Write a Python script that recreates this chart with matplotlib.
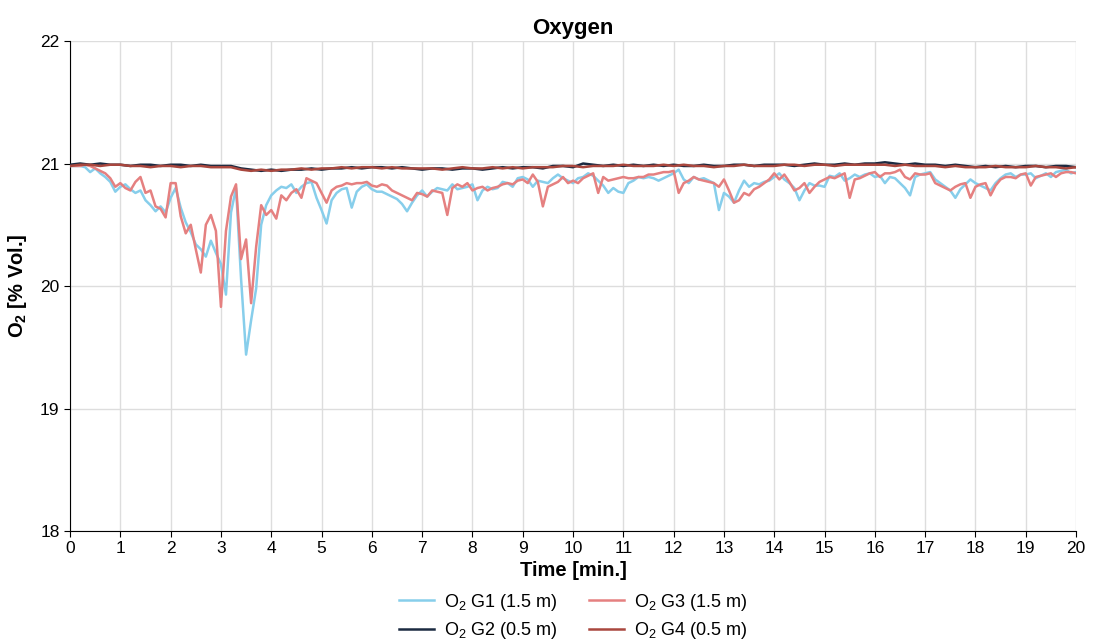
import numpy as np
import matplotlib
matplotlib.use("Agg")
import matplotlib.pyplot as plt

plt.rcParams['font.family'] = ['Liberation Sans', 'DejaVu Sans']
plt.rcParams['mathtext.default'] = 'regular'

# time axis for the sensor data [min.]
t_fine = np.round(np.arange(0, 20.01, 0.1), 2)
t_coarse = np.round(np.arange(0, 20.01, 0.2), 2)

# O2 G1 (1.5 m)
g1 = [
    20.98, 20.98, 20.98, 20.97, 20.93, 20.96, 20.92, 20.89, 20.85, 20.77,
    20.81, 20.83, 20.79, 20.76, 20.78, 20.70, 20.66, 20.61, 20.65, 20.60,
    20.72, 20.80, 20.64, 20.52, 20.44, 20.34, 20.30, 20.24, 20.37, 20.27,
    20.18, 19.93, 20.60, 20.80, 20.06, 19.44, 19.72, 19.98, 20.50, 20.66,
    20.74, 20.78, 20.81, 20.80, 20.83, 20.76, 20.81, 20.84, 20.85, 20.72,
    20.62, 20.51, 20.70, 20.76, 20.79, 20.80, 20.64, 20.77, 20.81, 20.83,
    20.79, 20.77, 20.77, 20.75, 20.73, 20.71, 20.67, 20.61, 20.68, 20.74,
    20.78, 20.73, 20.77, 20.80, 20.79, 20.78, 20.83, 20.79, 20.80, 20.81,
    20.83, 20.70, 20.78, 20.81, 20.79, 20.80, 20.85, 20.84, 20.81, 20.88,
    20.89, 20.87, 20.81, 20.86, 20.85, 20.84, 20.88, 20.91, 20.88, 20.86,
    20.84, 20.88, 20.89, 20.92, 20.90, 20.86, 20.82, 20.76, 20.80, 20.77,
    20.76, 20.84, 20.86, 20.89, 20.88, 20.89, 20.88, 20.86, 20.88, 20.90,
    20.92, 20.95, 20.87, 20.84, 20.89, 20.87, 20.88, 20.86, 20.84, 20.62,
    20.76, 20.73, 20.68, 20.78, 20.86, 20.81, 20.84, 20.83, 20.85, 20.86,
    20.89, 20.92, 20.87, 20.84, 20.80, 20.70, 20.78, 20.84, 20.82, 20.82,
    20.81, 20.90, 20.89, 20.92, 20.86, 20.88, 20.91, 20.89, 20.91, 20.92,
    20.89, 20.90, 20.84, 20.89, 20.88, 20.84, 20.80, 20.74, 20.89, 20.91,
    20.92, 20.93, 20.87, 20.84, 20.81, 20.78, 20.72, 20.79, 20.83, 20.87,
    20.84, 20.82, 20.80, 20.78, 20.84, 20.88, 20.91, 20.92, 20.89, 20.91,
    20.91, 20.92, 20.88, 20.90, 20.92, 20.89, 20.93, 20.94, 20.95, 20.92,
    20.93,
]

# O2 G3 (1.5 m)
g3 = [
    20.98, 20.98, 20.98, 20.99, 20.98, 20.96, 20.94, 20.92, 20.88, 20.81,
    20.84, 20.80, 20.78, 20.85, 20.89, 20.76, 20.78, 20.65, 20.63, 20.56,
    20.84, 20.84, 20.57, 20.43, 20.50, 20.30, 20.11, 20.50, 20.58, 20.45,
    19.83, 20.45, 20.73, 20.83, 20.22, 20.38, 19.86, 20.32, 20.66, 20.58,
    20.62, 20.55, 20.74, 20.70, 20.76, 20.79, 20.72, 20.88, 20.86, 20.84,
    20.76, 20.68, 20.78, 20.81, 20.82, 20.84, 20.83, 20.84, 20.84, 20.85,
    20.82, 20.81, 20.83, 20.82, 20.78, 20.76, 20.74, 20.72, 20.70, 20.76,
    20.75, 20.73, 20.78, 20.77, 20.76, 20.58, 20.80, 20.83, 20.81, 20.84,
    20.78, 20.80, 20.81, 20.78, 20.80, 20.81, 20.83, 20.84, 20.83, 20.86,
    20.87, 20.84, 20.91, 20.85, 20.65, 20.81, 20.83, 20.85, 20.89, 20.84,
    20.86, 20.84, 20.88, 20.90, 20.92, 20.76, 20.89, 20.86, 20.87, 20.88,
    20.89, 20.88, 20.88, 20.89, 20.89, 20.91, 20.91, 20.92, 20.93, 20.93,
    20.94, 20.76, 20.84, 20.86, 20.89, 20.87, 20.86, 20.85, 20.84, 20.81,
    20.87, 20.78, 20.68, 20.70, 20.76, 20.74, 20.79, 20.81, 20.84, 20.87,
    20.92, 20.87, 20.91, 20.85, 20.78, 20.80, 20.84, 20.76, 20.81, 20.85,
    20.87, 20.89, 20.88, 20.90, 20.92, 20.72, 20.87, 20.88, 20.90, 20.92,
    20.93, 20.89, 20.92, 20.92, 20.93, 20.95, 20.89, 20.87, 20.92, 20.91,
    20.91, 20.92, 20.84, 20.82, 20.80, 20.78, 20.81, 20.83, 20.84, 20.72,
    20.81, 20.83, 20.84, 20.74, 20.82, 20.87, 20.89, 20.89, 20.88, 20.91,
    20.92, 20.82, 20.89, 20.90, 20.91, 20.92, 20.89, 20.92, 20.93, 20.93,
    20.92,
]

# O2 G2 (0.5 m)
g2 = [
    20.99, 21.00, 20.99, 21.00, 20.99, 20.99, 20.98, 20.99, 20.99, 20.98,
    20.99, 20.99, 20.98, 20.99, 20.98, 20.98, 20.98, 20.96, 20.95, 20.94,
    20.95, 20.94, 20.95, 20.95, 20.96, 20.95, 20.96, 20.96, 20.97, 20.96,
    20.97, 20.97, 20.96, 20.97, 20.96, 20.95, 20.96, 20.96, 20.95, 20.96,
    20.96, 20.95, 20.96, 20.97, 20.96, 20.97, 20.97, 20.96, 20.98, 20.98,
    20.97, 21.00, 20.99, 20.98, 20.99, 20.98, 20.99, 20.98, 20.99, 20.98,
    20.99, 20.98, 20.98, 20.99, 20.98, 20.98, 20.99, 20.99, 20.98, 20.99,
    20.99, 20.99, 20.98, 20.99, 21.00, 20.99, 20.99, 21.00, 20.99, 21.00,
    21.00, 21.01, 21.00, 20.99, 21.00, 20.99, 20.99, 20.98, 20.99, 20.98,
    20.97, 20.98, 20.97, 20.98, 20.97, 20.98, 20.98, 20.97, 20.98, 20.98,
    20.97,
]

# O2 G4 (0.5 m)
g4 = [
    20.98, 20.99, 20.99, 20.98, 20.99, 20.99, 20.98, 20.98, 20.97, 20.98,
    20.98, 20.97, 20.98, 20.98, 20.97, 20.97, 20.97, 20.95, 20.94, 20.95,
    20.94, 20.95, 20.95, 20.96, 20.95, 20.96, 20.96, 20.97, 20.96, 20.97,
    20.97, 20.96, 20.97, 20.96, 20.96, 20.96, 20.96, 20.95, 20.96, 20.97,
    20.96, 20.96, 20.97, 20.96, 20.97, 20.96, 20.97, 20.97, 20.97, 20.98,
    20.98, 20.97, 20.98, 20.98, 20.98, 20.99, 20.98, 20.98, 20.98, 20.99,
    20.98, 20.99, 20.98, 20.98, 20.97, 20.98, 20.98, 20.99, 20.98, 20.98,
    20.98, 20.99, 20.99, 20.98, 20.99, 20.99, 20.98, 20.99, 20.99, 20.99,
    20.99, 20.99, 20.98, 20.99, 20.98, 20.98, 20.98, 20.97, 20.98, 20.97,
    20.97, 20.97, 20.98, 20.97, 20.97, 20.97, 20.98, 20.97, 20.97, 20.96,
    20.97,
]

labels = ['O$_2$ G1 (1.5 m)', 'O$_2$ G2 (0.5 m)', 'O$_2$ G3 (1.5 m)', 'O$_2$ G4 (0.5 m)']
colors = ['#87CEEB', '#1B2A41', '#E58080', '#A9473E']

fig = plt.figure(figsize=(10.96, 6.42), dpi=100)
ax = fig.add_axes([0.0639, 0.1729, 0.9179, 0.7632])

l1, = ax.plot(t_fine, g1, color=colors[0], linewidth=1.8, label=labels[0], zorder=3)
l3, = ax.plot(t_fine, g3, color=colors[2], linewidth=1.8, label=labels[2], zorder=3)
l2, = ax.plot(t_coarse, g2, color=colors[1], linewidth=1.8, label=labels[1], zorder=4)
l4, = ax.plot(t_coarse, g4, color=colors[3], linewidth=1.8, label=labels[3], zorder=5)

ax.set_xlim(0, 20)
ax.set_ylim(18, 22)
ax.set_xticks(range(0, 21))
ax.set_yticks([18, 19, 20, 21, 22])
ax.grid(True, color='#dddddd', linewidth=1.0)
ax.set_axisbelow(True)

for s in ['top', 'right']:
    ax.spines[s].set_visible(False)
ax.spines['left'].set_color('black')
ax.spines['bottom'].set_color('black')
ax.tick_params(axis='both', labelsize=12.5, length=4, color='black')

ax.set_title('Oxygen', fontsize=16, fontweight='bold', pad=5)
ax.set_xlabel('Time [min.]', fontsize=14.5, fontweight='bold', labelpad=3)
ax.set_ylabel('O$_2$ [% Vol.]', fontsize=14.5, fontweight='bold', labelpad=8)

fig.legend(handles=[l1, l2, l3, l4], labels=labels, loc='upper center',
           bbox_to_anchor=(0.523, 0.098), ncol=2, frameon=False, fontsize=13,
           handlelength=1.95, handletextpad=0.55, columnspacing=1.7,
           labelspacing=0.4, borderpad=0.2)

fig.savefig('out.png', dpi=100)
